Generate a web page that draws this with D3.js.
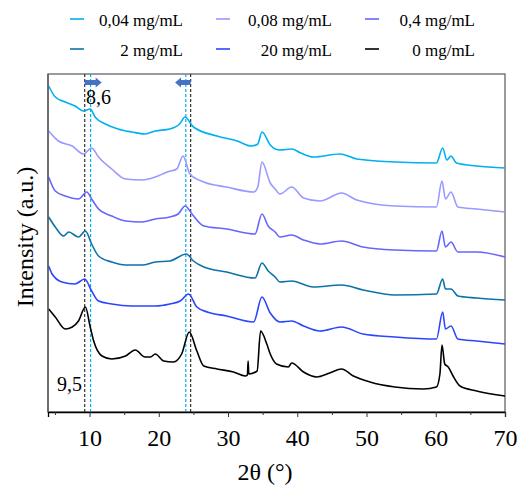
<!DOCTYPE html>
<html>
<head>
<meta charset="utf-8">
<script src="https://cdn.jsdelivr.net/npm/d3@7"></script>
<style>
  html, body { margin: 0; padding: 0; background: #fff; }
  svg { display: block; }
</style>
</head>
<body>
<svg id="chart" width="526" height="488"></svg>
<script>
// ---- data ----
const seriesNames = ["0,04 mg/mL", "0,08 mg/mL", "0,4 mg/mL", "2 mg/mL", "20 mg/mL", "0 mg/mL"];
const seriesColors = ["#00b0f0", "#9999ff", "#6666ff", "#0c72aa", "#2b45ff", "#000000"];

const s004 = [[4.1,326],[5.05,315],[6.5,310],[7.9,306],[9.1,301],[10.1,303],[10.8,295],[12.3,288],[14.1,283],[16.1,280],[18,278],[19.5,281],[21.6,283],[23.0,288],[23.8,295],[25,285],[28.4,276],[31.3,271],[33.4,266],[34.3,268],[34.9,280],[36.1,267],[36.8,263],[37.5,262],[39.2,263],[40.5,259],[42.3,255],[46.2,258],[48.6,253],[54.1,250],[60.1,249],[61.0,264],[61.6,252],[62.2,256],[63.0,249],[65.9,246],[70,244]];
const s008 = [[4.1,281],[5.5,271],[7.5,266],[9.1,258],[10.3,264],[11.3,255],[13.2,243],[15.2,233],[17.6,232],[19.5,235],[21.2,240],[22.6,243],[23.5,256],[24.5,238],[26.5,230],[29.8,225],[33.7,220],[34.3,225],[34.9,250],[36.1,229],[36.8,223],[37.5,218],[39.2,225],[40.9,214],[43.3,211],[46.4,219],[48.6,212],[54.1,206],[60.1,205],[60.9,231],[61.4,213],[62.2,220],[63.2,205],[65.9,203],[70,200]];
const s04 = [[4.1,235],[5.05,221],[6.5,216],[8.4,213],[9.6,220],[10.3,213],[11.3,203],[13.2,196],[15.2,191],[17.6,190],[19.5,193],[21.6,195],[22.8,198],[23.8,206],[24.8,198],[26.5,186],[29.8,183],[33.9,178],[34.9,198],[35.8,186],[36.8,180],[37.5,175],[39.2,177],[40.9,172],[43.3,168],[46.4,171],[49.5,165],[54.1,162],[60.1,161],[60.9,181],[61.4,165],[62.2,170],[63.2,160],[65.9,160],[70,155]];
const s2 = [[4.1,195],[5.05,185],[6.25,176],[7,180],[8.4,175],[9.4,181],[10.3,168],[11.3,156],[13.2,150],[15.2,147],[17.6,147],[19.5,150],[21.6,151],[24.0,158],[25,151],[26.5,145],[29.8,140],[33.9,134],[34.9,149],[35.8,141],[36.8,135],[37.5,130],[39.2,131],[42.3,125],[46.4,127],[49.5,122],[54.1,117],[60.1,118],[61.0,133],[61.4,123],[62.2,123],[63.2,116],[65.9,114],[70,112]];
const s20 = [[4.1,146],[4.6,138],[6,130],[7.9,128],[9.3,133],[10.3,121],[11.3,111],[13.2,108],[16.1,106],[19.5,106],[21.6,108],[23.1,111],[24.3,118],[25.5,105],[27,100],[29.8,96],[33.7,90],[34.9,115],[36.1,99],[37.5,90],[39.2,91],[40.9,86],[43.3,81],[46.4,85],[49.5,78],[54.1,75],[60.1,73],[61.0,100],[61.4,83],[62.2,86],[63.2,73],[65.9,71],[70,68]];
const s0 = [[4.1,103],[5.05,95],[6.5,83],[7.5,85],[8.4,91],[9.4,105],[10.1,85],[10.6,71],[11.8,56],[13.2,53],[15.2,56],[16.6,62],[18,55],[18.8,55],[19.5,58],[20.7,51],[22.1,50],[23.3,58],[24.4,80],[25.5,61],[26.5,46],[28.4,43],[30.8,40],[32.5,36],[32.8,37],[32.9,51],[33.0,38],[34.2,41],[34.7,81],[35.6,68],[36.1,58],[37,48],[38.7,45],[39.2,49],[40.9,40],[42.8,35],[44.7,39],[46.4,43],[48.1,36],[50.5,30],[54.1,25],[58.2,23],[60.1,25],[60.6,38],[60.9,67],[61.3,48],[61.8,45],[62.5,36],[63.5,26],[65.9,21],[70,16]];
const seriesData = [s004, s008, s04, s2, s20, s0];

const xTicks = [10, 20, 30, 40, 50, 60, 70];
const xMinorTicks = [5, 15, 25, 35, 45, 55, 65];
const refLinesBlack = [9.3, 24.6];
const refLinesBlue = [10.15, 23.9];
const annotations = [{x: 9.5, text: "8,6"}, {x: 5.3, text: "9,5"}];

// ---- layout ----
const FONT = "'Liberation Serif', 'Times New Roman', serif";
const L = 48, R = 505, T = 74, B = 412;
const svg = d3.select("#chart");
const x = d3.scaleLinear().domain([4, 70]).range([L, R]);
const y = d3.scaleLinear().domain([0, 338]).range([B, T]);

// frame
svg.append("rect").attr("x", L).attr("y", T).attr("width", R - L).attr("height", B - T)
  .attr("fill", "none").attr("stroke", "#666").attr("stroke-width", 1.3);

// reference dashed lines
refLinesBlack.forEach(v => {
  svg.append("line").attr("x1", x(v)).attr("x2", x(v)).attr("y1", T).attr("y2", B)
    .attr("stroke", "#333").attr("stroke-width", 1.2).attr("stroke-dasharray", "3,2");
});
refLinesBlue.forEach(v => {
  svg.append("line").attr("x1", x(v)).attr("x2", x(v)).attr("y1", T).attr("y2", B)
    .attr("stroke", "#00b0f0").attr("stroke-width", 1.2).attr("stroke-dasharray", "3,2");
});

// curves
const line = d3.line().x(d => x(d[0])).y(d => y(d[1])).curve(d3.curveMonotoneX);
seriesData.forEach((data, i) => {
  svg.append("path").datum(data).attr("d", line)
    .attr("fill", "none").attr("stroke", seriesColors[i]).attr("stroke-width", 1.6)
    .attr("stroke-linejoin", "round");
});

// arrows
function arrow(x0, x1, yy) {
  const dir = Math.sign(x1 - x0);
  const headL = 6, shaftH = 2.5, headH = 5;
  const xh = x1 - dir * headL;
  const pts = [[x0, yy - shaftH], [xh, yy - shaftH], [xh, yy - headH], [x1, yy], [xh, yy + headH], [xh, yy + shaftH], [x0, yy + shaftH]];
  svg.append("polygon").attr("points", pts.map(p => p.join(",")).join(" ")).attr("fill", "#4472c4");
}
arrow(x(9.3), x(11.75), 82.5);
arrow(x(24.6), x(22.35), 82.5);

function txt(sel) { return sel.style("font-family", FONT).style("fill", "#000"); }

// annotations
txt(svg.append("text").attr("x", x(annotations[0].x)).attr("y", 104).style("font-size", "20px").text(annotations[0].text));
txt(svg.append("text").attr("x", x(annotations[1].x)).attr("y", 391).style("font-size", "20px").text(annotations[1].text));

// x axis
const gx = svg.append("g").attr("transform", `translate(0,${B})`);
gx.call(d3.axisBottom(x).tickValues(xTicks).tickSize(5).tickPadding(12).tickFormat(d3.format("d")));
txt(gx.selectAll("text")).style("font-size", "24px");
gx.select(".domain").attr("stroke", "#000").attr("stroke-width", 1.3);
gx.selectAll(".tick line").attr("stroke", "#333");
const gxm = svg.append("g").attr("transform", `translate(0,${B})`);
gxm.call(d3.axisBottom(x).tickValues(xMinorTicks).tickSize(3).tickFormat(""));
gxm.select(".domain").remove();
gxm.selectAll(".tick line").attr("stroke", "#333");

// left axis line
svg.append("line").attr("x1", L).attr("x2", L).attr("y1", T).attr("y2", B).attr("stroke", "#555").attr("stroke-width", 1.3);

// axis titles
txt(svg.append("text").attr("x", 265).attr("y", 480).attr("text-anchor", "middle").style("font-size", "24px").text("2θ (°)"));
txt(svg.append("text").attr("transform", "translate(33,237) rotate(-90)").attr("text-anchor", "middle").style("font-size", "24px").text("Intensity (a.u.)"));

// legend
const colX = [70, 216, 365];
const colTextEnd = [183, 332, 475];
const rowY = [19, 49];
seriesNames.forEach((name, i) => {
  const c = i % 3, r = Math.floor(i / 3);
  svg.append("line").attr("x1", colX[c]).attr("x2", colX[c] + 14).attr("y1", rowY[r]).attr("y2", rowY[r])
    .attr("stroke", seriesColors[i]).attr("stroke-width", 1.6);
  txt(svg.append("text").attr("x", colTextEnd[c]).attr("y", rowY[r] + 6.5).attr("text-anchor", "end")
    .style("font-size", "17px").text(name));
});
</script>
</body>
</html>
